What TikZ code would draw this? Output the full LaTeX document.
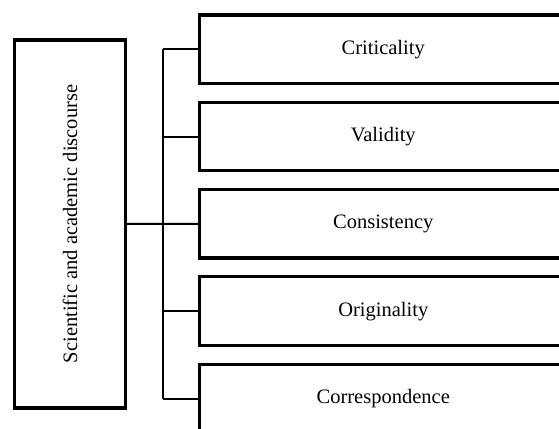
\documentclass[tikz,border=0pt]{standalone}
\usepackage{fontspec}
\setmainfont{Liberation Serif}
\begin{document}
\begin{tikzpicture}[x=1pt,y=-1pt,
  box/.style={draw=black, line width=3.2pt, rectangle, inner sep=0pt, fill=white,
    font=\fontsize{20.5}{24}\selectfont},
  itembox/.style={box, minimum width=367.5pt, minimum height=68.5pt},
  conn/.style={draw=black, line width=2pt}]
\useasboundingbox (0,0) rectangle (559,428);
\clip (0,0) rectangle (559,428);
\node[box, minimum width=111pt, minimum height=368pt] (src) at (70,224) {};
\node[rotate=90, font=\fontsize{20.5}{24}\selectfont] (srclabel) at (70,224) {Scientific and academic discourse};
\node[itembox] (b1) at (383.25,49.25) {Criticality};
\node[itembox] (b2) at (383.25,136.6) {Validity};
\node[itembox] (b3) at (383.25,223.75) {Consistency};
\node[itembox] (b4) at (383.25,311.1) {Originality};
\node[itembox] (b5) at (383.25,398.75) {Correspondence};
\coordinate (jtop) at (163,49.25);
\coordinate (jbot) at (163,398.75);
\draw[conn] (jtop) -- (jbot);
\draw[conn] (src.east) -- (b3.west);
\foreach \b in {b1,b2,b4,b5} {
  \draw[conn] (\b.west -| jtop) -- (\b.west);
}
\end{tikzpicture}
\end{document}
